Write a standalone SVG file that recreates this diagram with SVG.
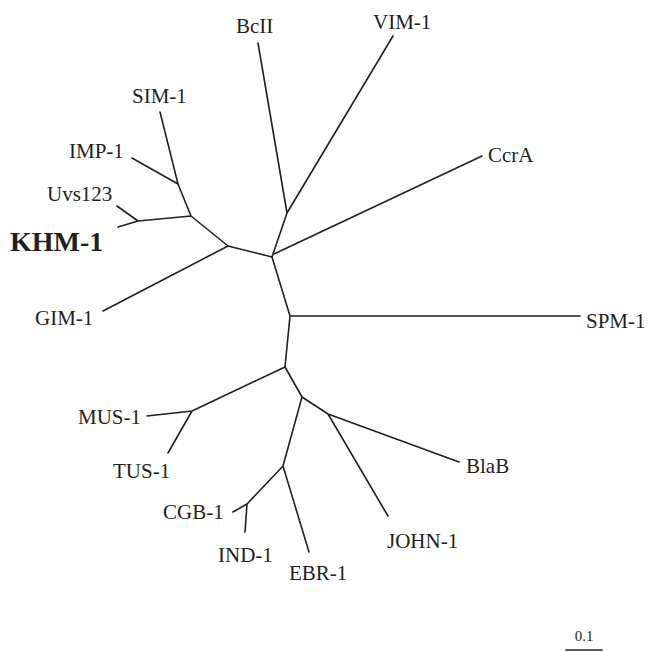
<svg xmlns="http://www.w3.org/2000/svg" width="651" height="652" viewBox="0 0 651 652">
<style>
.e{stroke:#231f20;stroke-width:1.6;fill:none;stroke-linecap:round;stroke-linejoin:round}
.t{font-family:"Liberation Serif","Times New Roman","DejaVu Serif",serif;font-size:21px;fill:#231f20}
.b{font-weight:bold;font-size:28px}
.s{font-size:15px}
</style>
<rect width="651" height="652" fill="#fff"/>
<g id="connectors">
<path class="e" d="M272,257 L287,213 M287,213 L258,43 M287,213 L393,36"/>
<path class="e" d="M274,254 L482,156"/>
<path class="e" d="M272,257 L228,246 L103,311 M228,246 L191,216 L178,184 L160,112 M178,184 L132,158 M191,216 L138,221 L117,206 M138,221 L118,227"/>
<path class="e" d="M272,257 L290,316 L580,316 M290,316 L285,367"/>
<path class="e" d="M285,367 L192,411 L147,416 M192,411 L168,453"/>
<path class="e" d="M285,367 L302,397 L328,414 L459,462 M328,414 L388,516"/>
<path class="e" d="M302,397 L283,466 L247,504 L233,512 M247,504 L245,532 M283,466 L309,552"/>
</g>
<g font-family="Liberation Serif, Times New Roman, DejaVu Serif, serif">
<g id="BcII"><text class="t" x="236" y="33">BcII</text></g>
<g id="VIM-1"><text class="t" x="373" y="29">VIM-1</text></g>
<g id="SIM-1"><text class="t" x="132" y="103">SIM-1</text></g>
<g id="IMP-1"><text class="t" x="69" y="158">IMP-1</text></g>
<g id="Uvs123"><text class="t" x="47" y="201">Uvs123</text></g>
<g id="KHM-1"><text class="t b" x="10" y="251">KHM-1</text></g>
<g id="GIM-1"><text class="t" x="35" y="325">GIM-1</text></g>
<g id="CcrA"><text class="t" x="488" y="162">CcrA</text></g>
<g id="SPM-1"><text class="t" x="586" y="328">SPM-1</text></g>
<g id="MUS-1"><text class="t" x="78" y="424">MUS-1</text></g>
<g id="TUS-1"><text class="t" x="113" y="478">TUS-1</text></g>
<g id="BlaB"><text class="t" x="466" y="473">BlaB</text></g>
<g id="CGB-1"><text class="t" x="163" y="519">CGB-1</text></g>
<g id="IND-1"><text class="t" x="218" y="562">IND-1</text></g>
<g id="EBR-1"><text class="t" x="289" y="580">EBR-1</text></g>
<g id="JOHN-1"><text class="t" x="387" y="548">JOHN-1</text></g>
<g id="scale">
<text class="t s" x="584" y="641" text-anchor="middle">0.1</text>
<line class="e" x1="566" y1="650" x2="602" y2="650" stroke-linecap="butt"/>
</g>
</g>
</svg>
